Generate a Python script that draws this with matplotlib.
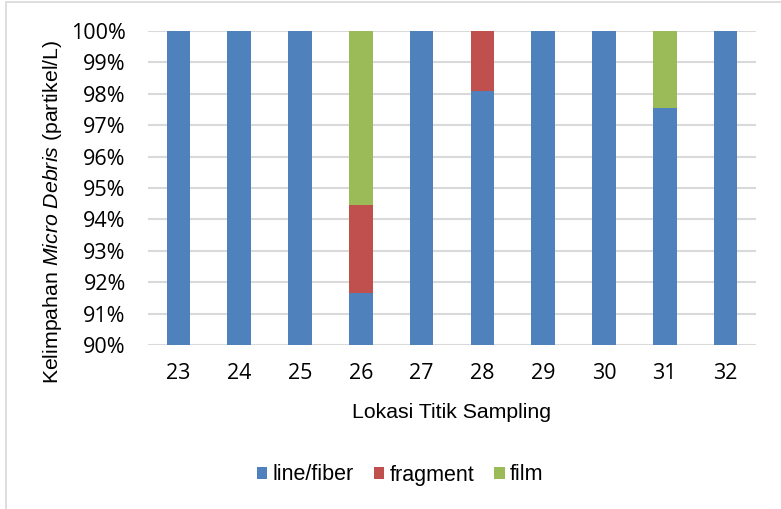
import matplotlib.pyplot as plt
from matplotlib.ticker import PercentFormatter
from matplotlib.patches import Rectangle

plt.rcParams['font.family'] = ['Liberation Sans', 'DejaVu Sans']
plt.rcParams['mathtext.fontset'] = 'custom'
plt.rcParams['mathtext.rm'] = 'Liberation Sans'
plt.rcParams['mathtext.it'] = 'Liberation Sans:italic'

lokasi = ['23', '24', '25', '26', '27', '28', '29', '30', '31', '32']
line_fiber = [100, 100, 100, 91.67, 100, 98.08, 100, 100, 97.56, 100]
fragment = [0, 0, 0, 2.78, 0, 1.92, 0, 0, 0, 0]
film = [0, 0, 0, 5.56, 0, 0, 0, 0, 2.44, 0]

fig = plt.figure(figsize=(7.81, 5.09), dpi=100)
ax = fig.add_axes([148 / 781, 1 - 345 / 509, 608 / 781, 314 / 509])

# frame round the whole chart
fig.patches.append(Rectangle((6 / 781, -0.1), 1.2, (509 - 2) / 509 + 0.1,
                             transform=fig.transFigure, fill=False,
                             edgecolor='#d9d9d9', linewidth=1.2))

x = range(len(lokasi))
w = 0.39
ax.bar(x, line_fiber, w, color='#4F81BD', label='line/fiber', zorder=3)
bottom = line_fiber
ax.bar(x, fragment, w, bottom=bottom, color='#C0504D', label='fragment', zorder=3)
bottom = [a + b for a, b in zip(line_fiber, fragment)]
ax.bar(x, film, w, bottom=bottom, color='#9BBB59', label='film', zorder=3)

ax.set_ylim(90, 100)
ax.set_xlim(-0.5, 9.5)
ax.set_yticks(range(90, 101))
ax.yaxis.set_major_formatter(PercentFormatter(decimals=0))
ax.set_xticks(list(x))
ax.set_xticklabels(lokasi)
ax.grid(axis='y', color='#d9d9d9', linewidth=1.5, zorder=0)
for s in ax.spines.values():
    s.set_visible(False)
ax.tick_params(length=0, labelsize=15.5, colors='black')
ax.tick_params(axis='x', pad=13)
ax.tick_params(axis='y', pad=16)
for t in ax.get_xticklabels() + ax.get_yticklabels():
    t.set_family(['Open Sans', 'DejaVu Sans'])

ax.set_xlabel('Lokasi Titik Sampling', fontsize=15.3)
ax.xaxis.label.set_va('center')
ax.xaxis.set_label_coords(0.5, (345 - 412) / 314)
ax.set_ylabel(r'Kelimpahan $\it{Micro\ Debris}$ (partikel/L)', fontsize=15.3)
ax.yaxis.label.set_va('center')
ax.yaxis.set_label_coords((53 - 148) / 608, (345 - 212) / 314)

ax.legend(loc='center', bbox_to_anchor=(400 / 781, 1 - 475 / 509),
          bbox_transform=fig.transFigure, ncol=3, frameon=False, fontsize=15.5,
          handlelength=0.47, handleheight=0.47, handletextpad=0.25,
          columnspacing=0.95)

fig.savefig('out.png', dpi=100)
